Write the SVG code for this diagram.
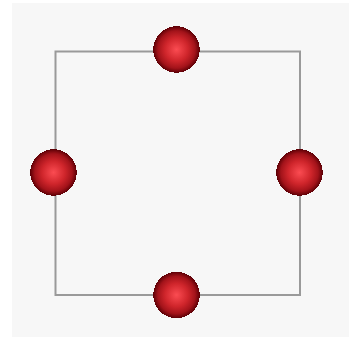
<svg xmlns="http://www.w3.org/2000/svg" width="349" height="340" viewBox="0 0 349 340">
<defs>
<radialGradient id="ball" cx="0.5" cy="0.5" r="0.5">
<stop offset="0" stop-color="#fb4c52"/>
<stop offset="0.5" stop-color="#cf252b"/>
<stop offset="0.8" stop-color="#a3131a"/>
<stop offset="1" stop-color="#5c0006"/>
</radialGradient>
</defs>
<style>
.edge{fill:none;stroke:#9a9a9a;stroke-width:2}
.node{fill:url(#ball);shape-rendering:crispEdges}
</style>
<rect x="0" y="0" width="349" height="340" fill="#ffffff"/>
<rect x="12" y="3" width="337" height="334" fill="#f7f7f7"/>
<g id="connectors">
<rect class="edge" x="55.5" y="51.5" width="244.5" height="243.5"/>
</g>
<g id="n-top"><circle class="node" cx="176.5" cy="49.5" r="23.3"/></g>
<g id="n-left"><circle class="node" cx="53.5" cy="172.5" r="23.3"/></g>
<g id="n-right"><circle class="node" cx="299.5" cy="172.5" r="23.3"/></g>
<g id="n-bottom"><circle class="node" cx="176.5" cy="295" r="23.3"/></g>
</svg>
